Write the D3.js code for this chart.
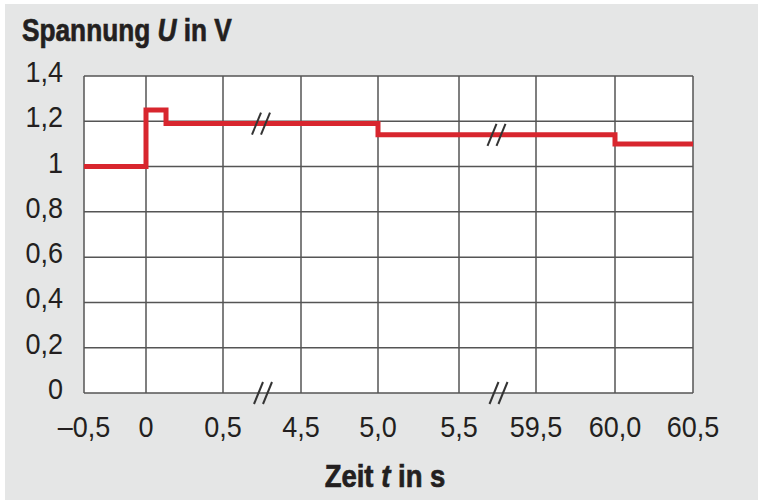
<!DOCTYPE html>
<html>
<head>
<meta charset="utf-8">
<script src="https://cdnjs.cloudflare.com/ajax/libs/d3/7.8.5/d3.min.js"></script>
<style>
  body { margin: 0; background: #fff; }
  svg text { font-family: "Liberation Sans", Arial, sans-serif; fill: #231f20; }
</style>
</head>
<body>
<div id="chart"></div>
<script>
/* data */
var xTicks = [-0.5, 0, 0.5, 4.5, 5.0, 5.5, 59.5, 60.0, 60.5];
var xTickLabels = ["\u20130,5", "0", "0,5", "4,5", "5,0", "5,5", "59,5", "60,0", "60,5"];
var yTicks = [0, 0.2, 0.4, 0.6, 0.8, 1.0, 1.2, 1.4];
var yTickLabels = ["0", "0,2", "0,4", "0,6", "0,8", "1", "1,2", "1,4"];
var tValues = [-0.5, 0, 0.13, 5.0, 60.0, 60.5];
var uValues = [1.0, 1.25, 1.19, 1.14, 1.10, 1.10];
var axisBreaks = [2.5, 32.5];

var width = 758, height = 500;

var svg = d3.select("#chart").append("svg")
    .attr("width", width)
    .attr("height", height);

// grey panel
svg.append("rect")
    .attr("x", 5).attr("y", 4)
    .attr("width", width - 5).attr("height", height - 4)
    .attr("fill", "#e5e6e6");

/* broken time axis: piecewise linear scale */
var x = d3.scaleLinear()
    .domain(xTicks)
    .range([84, 146, 223, 301, 378, 459, 536, 615, 693]);

var y = d3.scaleLinear()
    .domain([0, 1.4])
    .range([393, 76]);

var plot = svg.append("g");

plot.append("rect")
    .attr("x", x(-0.5)).attr("y", y(1.4))
    .attr("width", x(60.5) - x(-0.5))
    .attr("height", y(0) - y(1.4))
    .attr("fill", "#fff");

// grid
plot.selectAll(".vgrid")
    .data(xTicks)
    .enter().append("line")
    .attr("class", "vgrid")
    .attr("x1", function(d) { return x(d); })
    .attr("x2", function(d) { return x(d); })
    .attr("y1", y(0)).attr("y2", y(1.4))
    .attr("stroke", "#555")
    .attr("stroke-width", 1.5);

plot.selectAll(".hgrid")
    .data(yTicks)
    .enter().append("line")
    .attr("class", "hgrid")
    .attr("x1", x(-0.5)).attr("x2", x(60.5))
    .attr("y1", function(d) { return y(d); })
    .attr("y2", function(d) { return y(d); })
    .attr("stroke", "#555")
    .attr("stroke-width", 1.5);

// voltage curve
var line = d3.line()
    .x(function(d, i) { return x(tValues[i]); })
    .y(function(d) { return y(d); })
    .curve(d3.curveStepAfter);

plot.append("path")
    .attr("d", line(uValues))
    .attr("fill", "none")
    .attr("stroke", "#d8262e")
    .attr("stroke-width", 5)
    .attr("stroke-linejoin", "miter");

// break marks "//"
function uAt(t) {
  var i = d3.bisectRight(tValues, t) - 1;
  return uValues[i];
}

function drawBreak(cx, cy) {
  [-4.5, 4.5].forEach(function(off) {
    plot.append("line")
      .attr("x1", cx + off - 4.5).attr("y1", cy + 11)
      .attr("x2", cx + off + 4.5).attr("y2", cy - 11)
      .attr("stroke", "#333")
      .attr("stroke-width", 2);
  });
}

axisBreaks.forEach(function(b) {
  drawBreak(x(b) - 1, y(uAt(b)));
  drawBreak(x(b) + 1, y(0));
});

// condensed text helper (squeezes a normal face horizontally)
function label(px, py, anchor, size, sx, weight) {
  return svg.append("g")
      .attr("transform", "translate(" + px + "," + py + ")")
    .append("text")
      .attr("transform", "scale(" + sx + ",1)")
      .attr("text-anchor", anchor)
      .attr("font-size", size)
      .attr("font-weight", weight || "normal");
}

// y tick labels
yTicks.forEach(function(d, i) {
  label(63, y(d) + 6, "end", 30, 0.9).text(yTickLabels[i]);
});

// x tick labels
xTicks.forEach(function(d, i) {
  label(x(d), 437, "middle", 30, 0.9).text(xTickLabels[i]);
});

// axis titles (a thin outline makes them as heavy as the original)
var yTitle = label(22, 41, "start", 32, 0.82, "bold")
    .attr("stroke", "#231f20").attr("stroke-width", 0.7);
yTitle.append("tspan").text("Spannung ");
yTitle.append("tspan").attr("font-style", "italic").text("U");
yTitle.append("tspan").text(" in V");

var xTitle = label(385, 487, "middle", 32, 0.86, "bold")
    .attr("stroke", "#231f20").attr("stroke-width", 0.7);
xTitle.append("tspan").text("Zeit ");
xTitle.append("tspan").attr("font-style", "italic").text("t");
xTitle.append("tspan").text(" in s");
</script>
</body>
</html>
